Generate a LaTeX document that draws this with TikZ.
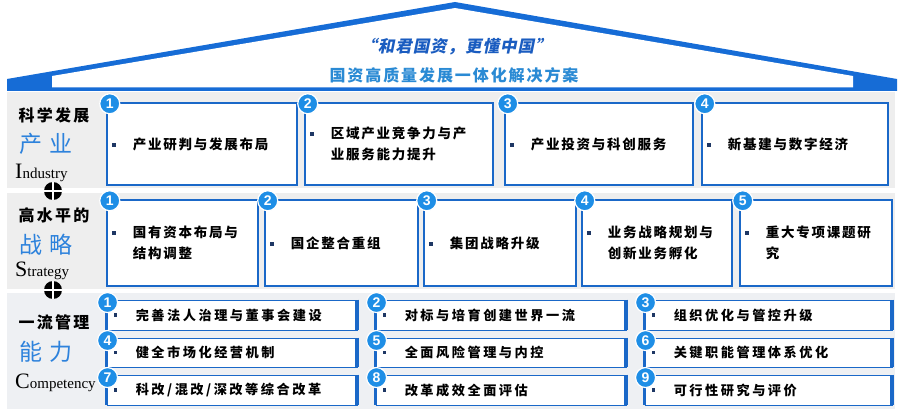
\documentclass[tikz,border=0pt]{standalone}
\usepackage{fontspec}
\setmainfont{Liberation Serif}
\setsansfont{Liberation Sans}
\newfontfamily\cjk{Noto Sans CJK SC}
\newfontfamily\cjkit{Noto Sans CJK SC}[FakeSlant=0.2]
\usetikzlibrary{fit}
\definecolor{roofblue}{RGB}{22,108,214}
\definecolor{bblue}{RGB}{26,104,200}
\definecolor{badgeblue}{RGB}{30,142,230}
\definecolor{lblue}{RGB}{45,130,220}
\definecolor{tblue}{RGB}{26,92,192}
\definecolor{tblue2}{RGB}{42,138,212}
\definecolor{bandgray}{RGB}{238,238,238}
\definecolor{bandgrayb}{RGB}{238,240,243}
\definecolor{navy}{RGB}{30,55,100}
\tikzset{
  bx/.style={draw=bblue, line width=2.5pt, fill=white, inner sep=0pt},
  rbx/.style={draw=bblue, line width=0.9pt, fill=white, inner sep=0pt},
  badge/.style={circle, fill=badgeblue, draw=white, line width=1.2pt, minimum size=20pt, inner sep=0pt, text=white, font=\sffamily\bfseries\fontsize{14}{14}\selectfont},
  itxt/.style={anchor=west, align=left, inner sep=0pt, text=black, font=\cjk\bfseries\fontsize{13.5}{21.5}\selectfont\addfontfeature{LetterSpace=13}},
  rtxt/.style={anchor=west, align=left, inner sep=0pt, text=black, font=\cjk\bfseries\fontsize{13.2}{20}\selectfont\addfontfeature{LetterSpace=19}},
  bsq/.style={rectangle, fill=navy, minimum size=3.6pt, inner sep=0pt},
  plusicon/.style={circle, fill=black, minimum size=18pt, inner sep=0pt,
    path picture={\draw[white, line width=2.4pt] (path picture bounding box.north) -- (path picture bounding box.south) (path picture bounding box.west) -- (path picture bounding box.east);}},
  lab/.style={inner sep=0pt, text=black, font=\cjk\bfseries\fontsize{16}{16}\selectfont\addfontfeature{LetterSpace=14}},
  labb/.style={inner sep=0pt, text=lblue, font=\cjk\fontsize{23}{23}\selectfont\addfontfeature{LetterSpace=28}},
  eng/.style={inner sep=0pt, anchor=base west, text=black, font=\fontsize{15}{15}\selectfont}
}
% big box: name, x1, y1, x2, y2, number, text
\newcommand\bigbox[7]{%
  \node[bx, fit={(#2,#3) (#4,#5)}] (#1) {};
  \node[itxt] (#1-t) at ([xshift=27pt]#1.west) {#7};
  \node[bsq] (#1-b) at ([xshift=-19pt,yshift=-7.5pt]#1-t.north west) {};
  \node[badge] (#1-n) at ([xshift=4pt,yshift=-2pt]#1.north west) {#6};
}
\newcommand\rowbox[7]{%
  \node[rbx, fit={(#2,#3) (#4,#5)}] (#1) {};
  \draw[bblue, line width=2.5pt] (#1.north west) -- (#1.south west);
  \draw[bblue, line width=4pt] (#1.north east) -- (#1.south east);
  \draw[bblue, line width=1.8pt] (#1.south west) -- (#1.south east);
  \node[rtxt] (#1-t) at ([xshift=29pt]#1.west) {#7};
  \node[bsq] (#1-b) at ([xshift=-20pt]#1-t.west) {};
  \node[badge] (#1-n) at ([xshift=1pt,yshift=-3pt]#1.north west) {#6};
}
\begin{document}
\begin{tikzpicture}[x=1pt,y=-1pt]
\useasboundingbox (0,0) rectangle (900,412);
% roof
\fill[roofblue] (7,91) -- (7,79) -- (455,2) -- (897,79) -- (897,91) -- cycle;
\fill[white] (52,87.5) -- (52,76) -- (455,8) -- (853,76) -- (853,87.5) -- cycle;
\node[inner sep=0pt, text=tblue, font=\cjkit\bfseries\fontsize{16.5}{16.5}\selectfont\addfontfeature{LetterSpace=6}] (title1) at (456,47) {“和君国资，更懂中国”};
\node[inner sep=0pt, text=tblue2, font=\cjk\bfseries\fontsize{16}{16}\selectfont\addfontfeature{LetterSpace=12}] (title2) at (454,75) {国资高质量发展一体化解决方案};
% bands
\fill[bandgray] (7,92) rectangle (895,188);
\fill[bandgray] (7,193) rectangle (895,289);
\fill[bandgrayb] (7,293) rectangle (895,409);
% left labels
\node[lab] (l1a) at (54,115) {科学发展};
\node[labb] (l1b) at (46,144) {产业};
\node[eng] (l1c) at (15,178) {{\fontsize{22}{22}\selectfont I}ndustry};
\node[lab] (l2a) at (54,215) {高水平的};
\node[labb] (l2b) at (46,245) {战略};
\node[eng] (l2c) at (15,276) {{\fontsize{22}{22}\selectfont S}trategy};
\node[lab] (l3a) at (54,322) {一流管理};
\node[labb] (l3b) at (46,352) {能力};
\node[eng] (l3c) at (15,388) {{\fontsize{22}{22}\selectfont C}ompetency};
\node[plusicon] (plus1) at (53,191) {};
\node[plusicon] (plus2) at (53,290) {};
% row 1
\bigbox{a1}{107}{103}{297}{185}{1}{产业研判与发展布局}
\bigbox{a2}{305}{103}{493}{185}{2}{区域产业竞争力与产\\业服务能力提升}
\bigbox{a3}{505}{103}{693}{185}{3}{产业投资与科创服务}
\bigbox{a4}{702}{103}{888}{185}{4}{新基建与数字经济}
% row 2
\bigbox{b1}{107}{200}{258}{286}{1}{国有资本布局与\\结构调整}
\bigbox{b2}{265}{200}{418}{286}{2}{国企整合重组}
\bigbox{b3}{424}{200}{576}{286}{3}{集团战略升级}
\bigbox{b4}{582}{200}{732}{286}{4}{业务战略规划与\\创新业务孵化}
\bigbox{b5}{740}{200}{892}{286}{5}{重大专项课题研\\究}
% row 3
\rowbox{c1}{107}{300}{357}{330}{1}{完善法人治理与董事会建设}
\rowbox{c2}{376}{300}{626}{330}{2}{对标与培育创建世界一流}
\rowbox{c3}{645}{300}{892}{330}{3}{组织优化与管控升级}
\rowbox{c4}{107}{338}{357}{367}{4}{健全市场化经营机制}
\rowbox{c5}{376}{338}{626}{367}{5}{全面风险管理与内控}
\rowbox{c6}{645}{338}{892}{367}{6}{关键职能管理体系优化}
\rowbox{c7}{107}{375}{357}{405}{7}{科改/混改/深改等综合改革}
\rowbox{c8}{376}{375}{626}{405}{8}{改革成效全面评估}
\rowbox{c9}{645}{375}{892}{405}{9}{可行性研究与评价}
\end{tikzpicture}
\end{document}
